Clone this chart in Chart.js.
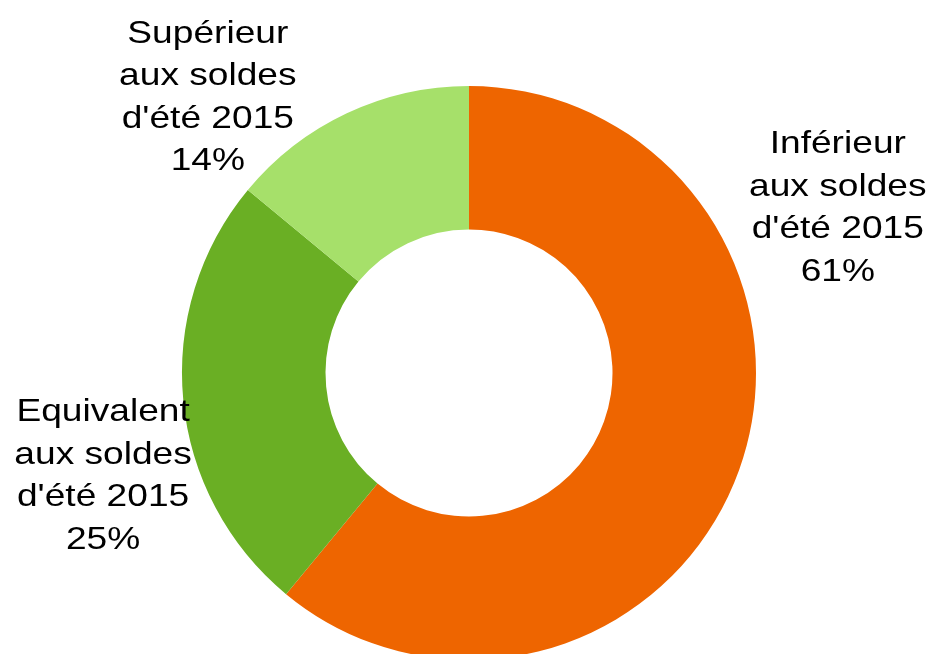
<!DOCTYPE html>
<html>
<head>
<meta charset="utf-8">
<script src="https://cdn.jsdelivr.net/npm/chart.js@4/dist/chart.umd.min.js"></script>
<style>
  html, body { margin: 0; padding: 0; background: #fff; overflow: hidden; }
  #wrap { position: relative; width: 933px; height: 700px; }
</style>
</head>
<body>
<div id="wrap"><canvas id="myChart"></canvas></div>
<script>
// categories, values and colours, clockwise from 12 o'clock
const categories = [
    ["Inférieur", "aux soldes", "d'été 2015"],
    ["Equivalent", "aux soldes", "d'été 2015"],
    ["Supérieur", "aux soldes", "d'été 2015"]
];
const values = [61, 25, 14];
const colors = ['#EE6500', '#6AAF24', '#A6E06A'];
// where each label sits, relative to chart centre (in radii)
const labelOffsets = [[1.285, -0.575], [-1.275, 0.36], [-0.91, -0.96]];

const sliceLabels = {
    id: 'sliceLabels',
    afterDraw(chart) {
        const ctx = chart.ctx;
        const arc = chart.getDatasetMeta(0).data[0];
        const r = arc.outerRadius;
        const total = values.reduce((a, b) => a + b, 0);
        const sx = 1.16; // the original text is drawn a bit wider
        ctx.save();
        ctx.font = '32px "Liberation Sans", Arial, sans-serif';
        ctx.fillStyle = '#000';
        ctx.textAlign = 'center';
        ctx.textBaseline = 'middle';
        const lh = 42.5;
        categories.forEach((lines, i) => {
            const all = lines.concat([Math.round(values[i] / total * 100) + '%']);
            const cx = arc.x + labelOffsets[i][0] * r;
            const cy = arc.y + labelOffsets[i][1] * r;
            all.forEach((t, j) => {
                ctx.save();
                ctx.translate(cx, cy + (j - (all.length - 1) / 2) * lh);
                ctx.scale(sx, 1);
                ctx.fillText(t, 0, 0);
                ctx.restore();
            });
        });
        ctx.restore();
    }
};

const ctx = document.getElementById('myChart');
const chart = new Chart(ctx, {
    type: 'doughnut',
    data: {
        labels: categories.map(l => l.join(' ')),
        datasets: [{
            data: values,
            backgroundColor: colors,
            borderWidth: 0
        }]
    },
    options: {
        responsive: true,
        maintainAspectRatio: false,
        animation: false,
        cutout: '50%',
        layout: { padding: { top: 86, bottom: 40, left: 182, right: 177 } },
        plugins: {
            legend: { display: false },
            tooltip: { enabled: false }
        }
    },
    plugins: [sliceLabels]
});
</script>
</body>
</html>
